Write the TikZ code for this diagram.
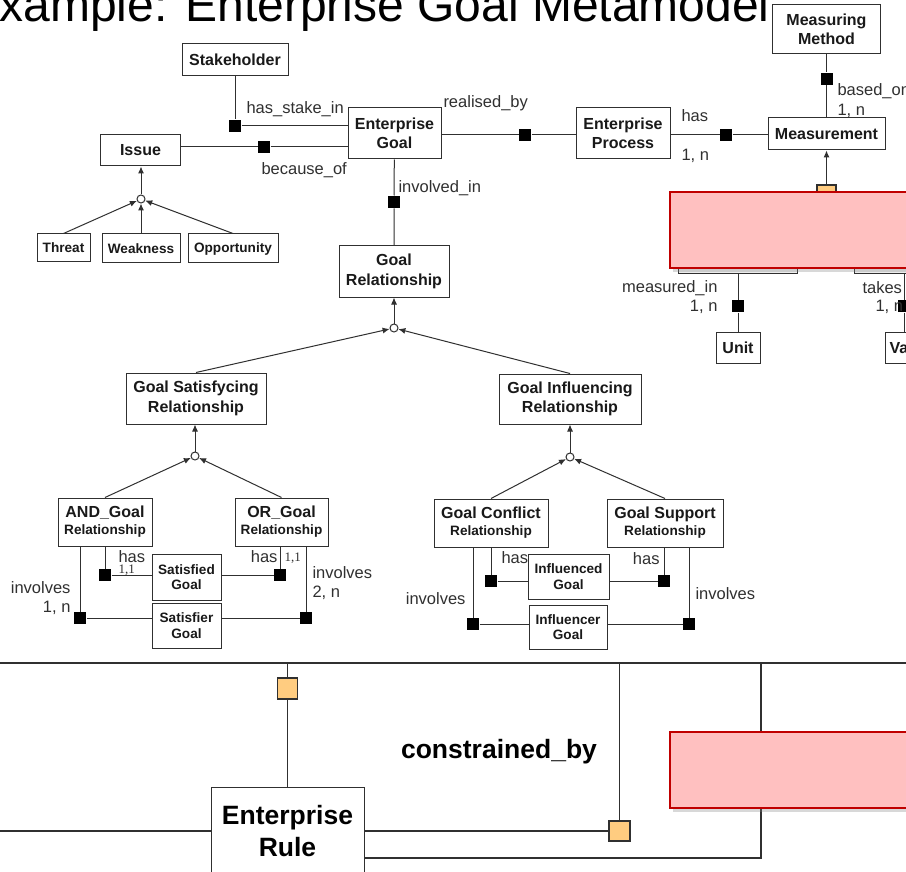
\documentclass[tikz,border=0pt]{standalone}
\usepackage{fontspec}
\setmainfont{Liberation Sans}
\newfontfamily\serifnum{Liberation Serif}
\usetikzlibrary{arrows.meta,shadows}
\definecolor{linegray}{HTML}{303030}
\definecolor{rulepink}{HTML}{FFC0C0}
\definecolor{rulered}{HTML}{C00000}
\definecolor{keyorange}{HTML}{FFCC80}
\newcommand{\boxfont}{\fontsize{16}{19.5}\selectfont\bfseries}
\newcommand{\subfont}{\fontsize{13.6}{15.5}\selectfont\bfseries}
\newcommand{\relfont}{\fontsize{16.5}{19}\selectfont}
\newcommand{\rulefont}{\fontsize{26.5}{32}\selectfont\bfseries}
\newcommand{\onefont}{\serifnum\fontsize{13}{15}\selectfont}

\begin{document}
\begin{tikzpicture}[x=1pt, y=-1pt, line width=1pt, color=linegray]
	\tikzstyle{Entity} = [rectangle, text centered, align=center, draw=linegray, line width=1pt, fill=white, inner sep=0pt, font=\boxfont, text=black!90]
	\tikzstyle{Sub} = [Entity, font=\subfont]
	\tikzstyle{Sq} = [rectangle, minimum size=12pt, inner sep=0pt, fill=black]
	\tikzstyle{Gen} = [circle, minimum size=8pt, inner sep=0pt, draw=linegray, fill=white]
	\tikzstyle{Key} = [rectangle, minimum width=20pt, minimum height=21pt, inner sep=0pt, draw=linegray, line width=1.2pt, fill=keyorange]
	\tikzstyle{Cover} = [rectangle, inner sep=0pt, draw=rulered, line width=2pt, fill=rulepink, drop shadow={opacity=0.3, shadow xshift=3pt, shadow yshift=-4pt}]
	\tikzstyle{Lbl} = [inner sep=0pt, font=\relfont, text=linegray]
	\tikzstyle{arrow} = [-{Latex[length=7pt,width=6pt]}]

	\useasboundingbox[fill=white] (0,0) rectangle (906,872);

	\node (title) [anchor=base west, inner sep=0pt, font=\fontsize{48}{56}\selectfont, text=black] at (-33,22) {Example: Enterprise Goal Metamodel};

	% goal, issue and process
	\node (stakeholder) [Entity, minimum width=106pt, minimum height=32pt] at (235,60) {Stakeholder};
	\node (goal) [Entity, minimum width=93pt, minimum height=51pt] at (394.5,133.5) {Enterprise\\Goal};
	\node (issue) [Entity, minimum width=80pt, minimum height=31pt] at (140.5,150.5) {Issue};
	\node (threat) [Sub, minimum width=53pt, minimum height=28pt] at (63.5,248) {Threat};
	\node (weakness) [Sub, minimum width=78pt, minimum height=29pt] at (141,248.5) {Weakness};
	\node (opportunity) [Sub, minimum width=90pt, minimum height=29pt] at (233,248.5) {Opportunity};
	\node (process) [Entity, minimum width=94pt, minimum height=51pt] at (623,133.5) {Enterprise\\Process};
	\node (measurement) [Entity, minimum width=117pt, minimum height=32pt] at (826.5,134) {Measurement};
	\node (method) [Entity, minimum width=108pt, minimum height=49pt] at (826.5,29.5) {Measuring\\Method};
	\node (measureA) [Entity, fill=gray!15, minimum width=119pt, minimum height=75pt] at (737.5,235.5) {};
	\node (measureB) [Entity, fill=gray!15, minimum width=110pt, minimum height=75pt] at (909,235.5) {};
	\node (unit) [Entity, minimum width=44pt, minimum height=31pt] at (738,347.5) {Unit};
	\node (value) [Entity, anchor=west, minimum height=31pt, inner xsep=4pt] at (885,347.5) {Value};

	% relationship hierarchy
	\node (goalrel) [Entity, minimum width=110pt, minimum height=51pt] at (394,271.5) {Goal\\Relationship};
	\node (satrel) [Entity, minimum width=140pt, minimum height=51pt] at (196,398.5) {Goal Satisfycing\\Relationship};
	\node (inflrel) [Entity, minimum width=142pt, minimum height=50pt] at (570,399) {Goal Influencing\\Relationship};
	\node (andgoal) [Entity, minimum width=94pt, minimum height=48pt] at (105,522) {AND\_Goal\\[-2.5pt]{\subfont Relationship}};
	\node (orgoal) [Entity, minimum width=93pt, minimum height=48pt] at (281.5,522) {OR\_Goal\\[-2.5pt]{\subfont Relationship}};
	\node (satisfied) [Sub, minimum width=69pt, minimum height=46pt] at (186.5,577) {Satisfied\\Goal};
	\node (satisfier) [Sub, minimum width=69pt, minimum height=45pt] at (186.5,625.5) {Satisfier\\Goal};
	\node (conflict) [Entity, minimum width=114pt, minimum height=48pt] at (491,523) {Goal Conflict\\[-2.5pt]{\subfont Relationship}};
	\node (support) [Entity, minimum width=116pt, minimum height=48pt] at (665,523) {Goal Support\\[-2.5pt]{\subfont Relationship}};
	\node (influenced) [Sub, minimum width=81pt, minimum height=45pt] at (568.5,576.5) {Influenced\\Goal};
	\node (influencer) [Sub, minimum width=78pt, minimum height=44pt] at (568,627) {Influencer\\Goal};

	\node (sq1) [Sq] at (235,126) {};
	\node (sq2) [Sq] at (264,147) {};
	\node (sq3) [Sq] at (394,202) {};
	\node (sq4) [Sq] at (525,135) {};
	\node (sq5) [Sq] at (726,135) {};
	\node (sq6) [Sq] at (826.5,79) {};
	\node (sq7) [Sq] at (738,306) {};
	\node (sq8) [Sq] at (904,306) {};
	\node (sqa1) [Sq] at (105,575) {};
	\node (sqa2) [Sq] at (80,618) {};
	\node (sqo1) [Sq] at (280,575) {};
	\node (sqo2) [Sq] at (306,618) {};
	\node (sqc1) [Sq] at (491,581) {};
	\node (sqc2) [Sq] at (473,624) {};
	\node (sqs1) [Sq] at (664,581) {};
	\node (sqs2) [Sq] at (689,624) {};

	\node (g1) [Gen] at (141,199) {};
	\node (g2) [Gen] at (394,328) {};
	\node (g3) [Gen] at (195,456) {};
	\node (g4) [Gen] at (570,457) {};

	\draw (stakeholder) -- (sq1) -- (sq1 -| goal.west);
	\draw (issue.east |- sq2) -- (sq2) -- (sq2 -| goal.west);
	\draw (goal) -- (sq3) -- (goalrel);
	\draw (goal.east |- sq4) -- (sq4) -- (sq4 -| process.west);
	\draw (process.east |- sq5) -- (sq5) -- (sq5 -| measurement.west);
	\draw (method) -- (sq6) -- (measurement);
	\draw (measureA.south -| sq7) -- (sq7) -- (unit);
	\draw (measureB.south -| sq8) -- (sq8) -- (sq8 |- value.north);

	\draw [arrow] (g1) -- (issue.south -| g1);
	\draw [arrow] (threat.north) -- (g1);
	\draw [arrow] (weakness.north) -- (g1);
	\draw [arrow] (opportunity.north) -- (g1);
	\draw [arrow] (g2) -- (goalrel);
	\draw [arrow] (satrel.north) -- (g2);
	\draw [arrow] (inflrel.north) -- (g2);
	\draw [arrow] (g3) -- (satrel.south -| g3);
	\draw [arrow] (andgoal.north) -- (g3);
	\draw [arrow] (orgoal.north) -- (g3);
	\draw [arrow] (g4) -- (inflrel);
	\draw [arrow] (conflict.north) -- (g4);
	\draw [arrow] (support.north) -- (g4);

	\draw (andgoal.south -| sqa1) -- (sqa1) -- (sqa1 -| satisfied.west);
	\draw (andgoal.south -| sqa2) -- (sqa2) -- (sqa2 -| satisfier.west);
	\draw (orgoal.south -| sqo1) -- (sqo1) -- (sqo1 -| satisfied.east);
	\draw (orgoal.south -| sqo2) -- (sqo2) -- (sqo2 -| satisfier.east);
	\draw (conflict.south -| sqc1) -- (sqc1) -- (sqc1 -| influenced.west);
	\draw (conflict.south -| sqc2) -- (sqc2) -- (sqc2 -| influencer.west);
	\draw (support.south -| sqs1) -- (sqs1) -- (sqs1 -| influenced.east);
	\draw (support.south -| sqs2) -- (sqs2) -- (sqs2 -| influencer.east);

	% labels
	\node (lstake) [Lbl, anchor=west] at (246,109) {has\_stake\_in};
	\node (lbecause) [Lbl, anchor=west] at (261,170) {because\_of};
	\node (lrealised) [Lbl, anchor=west] at (443,103) {realised\_by};
	\node (linvolved) [Lbl, anchor=west] at (398,188) {involved\_in};
	\node (lhas) [Lbl, anchor=west] at (681,116) {has};
	\node (lhasn) [Lbl, anchor=west] at (681,156) {1, n};
	\node (lbased) [Lbl, anchor=west] at (837,91) {based\_on};
	\node (lbasedn) [Lbl, anchor=west] at (837,111) {1, n};
	\node (lmeasured) [Lbl, anchor=east] at (718,288) {measured\_in};
	\node (lmeasuredn) [Lbl, anchor=east] at (718,307) {1, n};
	\node (ltakes) [Lbl, anchor=west] at (862,288) {takes};
	\node (ltakesn) [Lbl, anchor=west] at (875,307) {1, n};
	\node (landhas) [Lbl, anchor=west] at (118,557) {has};
	\node (landone) [Lbl, anchor=west, font=\onefont] at (118,570) {1,1};
	\node (lorhas) [Lbl, anchor=east] at (278,557) {has};
	\node (lorone) [Lbl, anchor=west, font=\onefont] at (284,558) {1,1};
	\node (landinv) [Lbl, anchor=east] at (71,588) {involves};
	\node (landinvn) [Lbl, anchor=east] at (71,608) {1, n};
	\node (lorinv) [Lbl, anchor=west] at (312,573) {involves};
	\node (lorinvn) [Lbl, anchor=west] at (312,593) {2, n};
	\node (lconhas) [Lbl, anchor=west] at (501,558) {has};
	\node (lsuphas) [Lbl, anchor=east] at (660,559) {has};
	\node (lconinv) [Lbl, anchor=east] at (466,599) {involves};
	\node (lsupinv) [Lbl, anchor=west] at (695,594) {involves};

	\node (key1) [Key, minimum width=19pt, minimum height=14pt] at (826.5,192) {};
	\draw [arrow] (key1) -- (measurement);

	% enterprise rule
	\coordinate (bl) at (0,663);
	\coordinate (br) at (906,663);
	\coordinate (ruleleft) at (0,831);
	\coordinate (rulecorner) at (761,858);
	\draw [line width=2pt] (bl) -- (br);
	\node (rule) [Entity, font=\rulefont, text=black, minimum width=153pt, minimum height=88pt] at (287.5,831) {Enterprise\\Rule};
	\node (key2) [Key] at (287.5,688.5) {};
	\node (key3) [Key, minimum width=21pt, minimum height=20pt] at (619.5,831) {};
	\draw [line width=1.3pt] (key2 |- bl) -- (key2) -- (rule);
	\draw [line width=1.3pt] (ruleleft) -- (rule);
	\draw [line width=1.3pt] (rule) -- (key3);
	\draw [line width=0.8pt] (key3 |- bl) -- (key3);
	\draw [line width=1.3pt] (rule.east |- rulecorner) -- (rulecorner) -- (rulecorner |- bl);
	\node (constrained) [font=\fontsize{26.5}{30}\selectfont\bfseries, text=black] at (499,752) {constrained\_by};

	\node (cover1) [Cover, minimum width=300pt, minimum height=76pt, anchor=north west] at (669,191) {};
	\node (cover2) [Cover, minimum width=300pt, minimum height=76pt, anchor=north west] at (669,731) {};
\end{tikzpicture}
\end{document}
